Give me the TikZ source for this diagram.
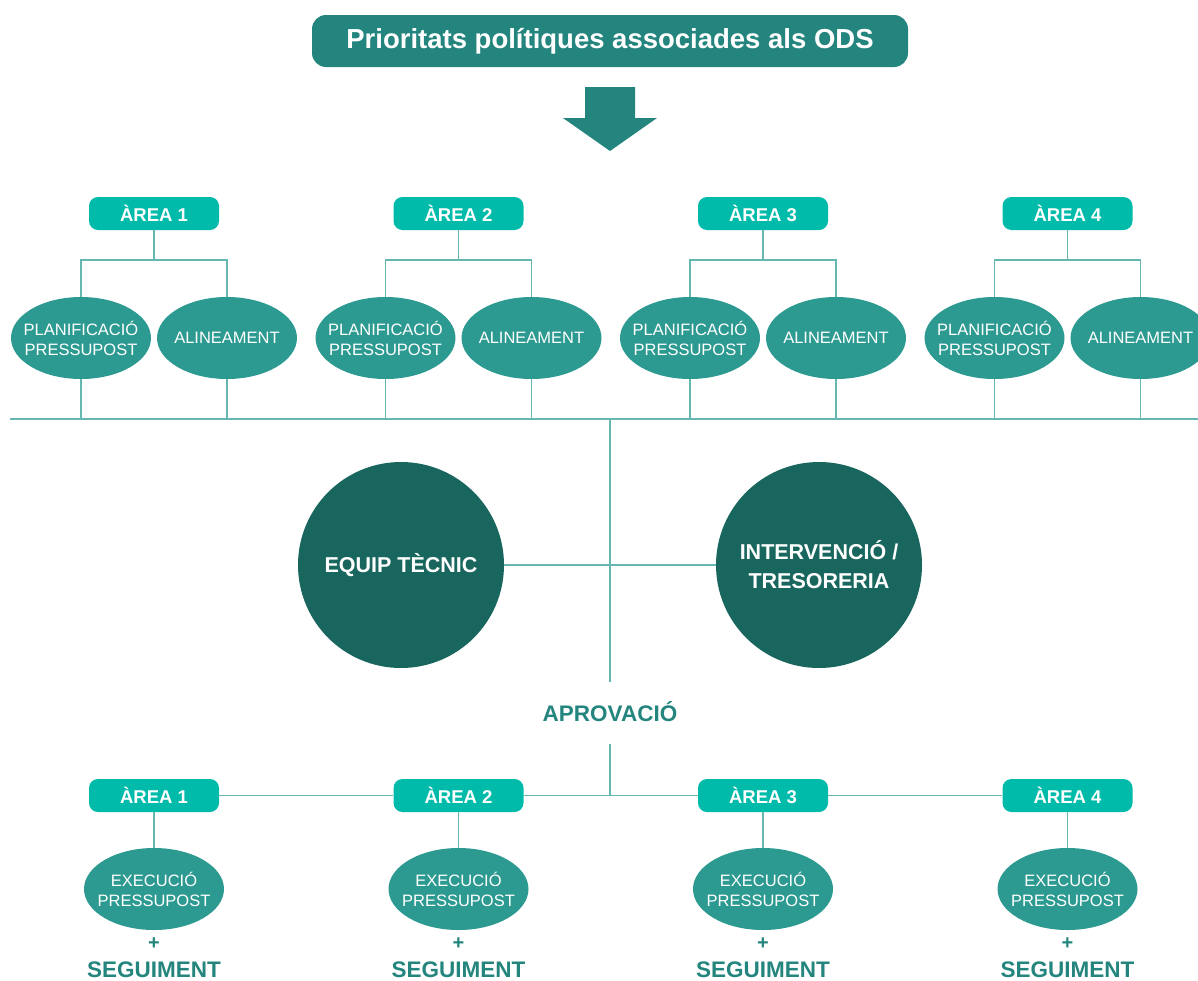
\documentclass[tikz,border=0pt]{standalone}
\usepackage{fontspec}
\setmainfont{Liberation Sans}
\usetikzlibrary{shapes.geometric}
\definecolor{titlec}{RGB}{35,133,125}
\definecolor{areac}{RGB}{0,187,170}
\definecolor{ellc}{RGB}{44,154,145}
\definecolor{circc}{RGB}{24,102,94}
\definecolor{linec}{RGB}{100,184,176}
\definecolor{labc}{RGB}{35,133,125}
\begin{document}
\begin{tikzpicture}[x=1pt,y=-1pt,
 conn/.style={draw=linec,line width=1.6pt},
 titlebox/.style={fill=titlec,rounded corners=14pt,minimum width=596pt,minimum height=52pt,inner sep=0pt,text=white,font=\fontsize{27.5}{30}\selectfont\bfseries},
 areabox/.style={fill=areac,rounded corners=9pt,minimum width=130pt,minimum height=33pt,inner sep=0pt,text=white,font=\fontsize{18.5}{20}\selectfont\bfseries},
 oval/.style={ellipse,fill=ellc,minimum width=140pt,minimum height=82pt,inner sep=0pt},
 ovaltext/.style={text=white,align=center,inner sep=0pt,font=\fontsize{16.5}{20}\selectfont},
 bigcirc/.style={circle,fill=circc,minimum size=206pt,inner sep=0pt,text=white,align=center,font=\fontsize{21.5}{29}\selectfont\bfseries},
 lab/.style={text=labc,font=\fontsize{22.5}{24}\selectfont\bfseries,inner sep=0pt},
]
\useasboundingbox (0,0) rectangle (1198,980);
\clip (0,0) rectangle (1198,980);

% title and arrow
\node[titlebox] (title) at (610,41) {Prioritats polítiques associades als ODS};
\fill[titlec] (585,87) -- (635,87) -- (635,118) -- (657,118) -- (610,151) -- (563,118) -- (585,118) -- cycle;

% top areas
\foreach \i/\cx in {1/154,2/458.5,3/763,4/1067.5}{
  \node[areabox] (a\i) at (\cx,213.5) {ÀREA \i};
  \coordinate (j\i) at (\cx,260);
  \node[oval,label={[ovaltext]center:{PLANIFICACIÓ\\PRESSUPOST}}] (p\i) at (\cx-73,338) {};
  \node[oval,label={[ovaltext]center:{ALINEAMENT}}] (l\i) at (\cx+73,338) {};
  \draw[conn] (a\i.south) -- (j\i);
  \draw[conn] (p\i.north) |- (j\i) -| (l\i.north);
}
\coordinate (busL) at (10,419);
\coordinate (busR) at (1198,419);
\draw[conn] (busL) -- (busR);
\foreach \i in {1,2,3,4}{
  \draw[conn] (p\i.south) -- (p\i.south |- busL);
  \draw[conn] (l\i.south) -- (l\i.south |- busL);
}

% centre
\coordinate (busC) at (610,419);
\coordinate (cEnd) at (610,682);
\draw[conn] (busC) -- (cEnd);
\node[bigcirc] (eq) at (401,565) {EQUIP TÈCNIC};
\node[bigcirc] (iv) at (819,565) {INTERVENCIÓ /\\TRESORERIA};
\draw[conn] (eq.east) -- (iv.west);

\node[lab,anchor=base] (apr) at (610,721) {APROVACIÓ};
\coordinate (aprB) at (610,744);
\coordinate (aprJ) at (610,796);
\draw[conn] (aprB) -- (aprJ);

% bottom areas
\foreach \i/\cx in {1/154,2/458.5,3/763,4/1067.5}{
  \node[areabox] (b\i) at (\cx,795.5) {ÀREA \i};
  \node[oval,label={[ovaltext]center:{EXECUCIÓ\\PRESSUPOST}}] (e\i) at (\cx,889) {};
  \draw[conn] (b\i.south) -- (e\i.north);
  \node[lab,font=\fontsize{20}{22}\selectfont\bfseries] (plus\i) at (\cx,944) {+};
  \node[lab,anchor=base] (s\i) at (\cx,977) {SEGUIMENT};
}
\draw[conn] (b1.east) -- (b2.west);
\draw[conn] (b2.east) -- (b3.west);
\draw[conn] (b3.east) -- (b4.west);
\end{tikzpicture}
\end{document}
